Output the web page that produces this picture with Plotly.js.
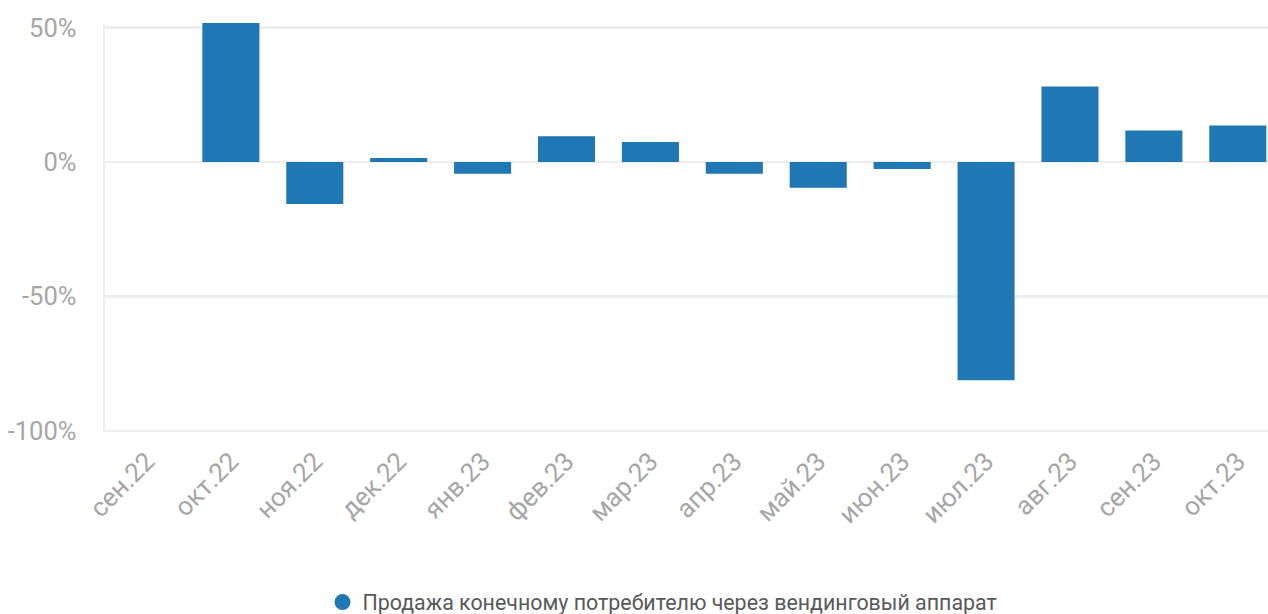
<!DOCTYPE html>
<html>
<head>
<meta charset="utf-8">
<script src="https://cdn.plot.ly/plotly-3.0.1.min.js"></script>
<style>html,body{margin:0;padding:0;overflow:hidden;background:#fff}</style>
</head>
<body>
<div id="chart" style="width:1268px;height:614px"></div>
<script>
const months = ["сен.22","окт.22","ноя.22","дек.22","янв.23","фев.23","мар.23","апр.23","май.23","июн.23","июл.23","авг.23","сен.23","окт.23"];
const values = [null, 51.7, -15.6, 1.5, -4.4, 9.6, 7.4, -4.4, -9.6, -2.6, -81.2, 28.1, 11.7, 13.6];
const seriesName = "Продажа конечному потребителю через вендинговый аппарат";
const barColor = "#1f77b4";

const traces = [
  {
    type: "bar",
    x: months,
    y: values,
    marker: {color: barColor},
    showlegend: false,
    hoverinfo: "x+y"
  },
  {
    type: "scatter",
    mode: "markers",
    x: [null],
    y: [null],
    name: seriesName,
    marker: {color: barColor, size: 20, symbol: "circle"},
    showlegend: true
  }
];

const layout = {
  width: 1268,
  height: 614,
  margin: {l: 105, r: 0, t: 23, b: 182, autoexpand: false},
  paper_bgcolor: "#fff",
  plot_bgcolor: "#fff",
  font: {family: "Roboto, sans-serif", color: "#a6a6a6", size: 26},
  bargap: 0.32,
  xaxis: {
    type: "category",
    range: [-0.5, 13.36],
    tickangle: -45,
    tickfont: {size: 26, color: "#a6a6a6"},
    showgrid: false,
    zeroline: false,
    showline: false,
    ticks: "",
    ticklabelstandoff: 8,
    automargin: false
  },
  yaxis: {
    range: [-100.4, 51.7],
    tickvals: [-100, -50, 0, 50],
    ticktext: ["-100%", "-50%", "0%", "50%"],
    tickfont: {size: 25.5, color: "#a6a6a6"},
    showgrid: true,
    gridcolor: "#eeeeee",
    gridwidth: 2.5,
    zeroline: false,
    showline: true,
    linecolor: "#eeeeee",
    linewidth: 2.5,
    ticks: "",
    ticklabelstandoff: 21,
    automargin: false
  },
  showlegend: true,
  legend: {
    orientation: "h",
    x: 0.187,
    xanchor: "left",
    y: -0.416,
    yanchor: "middle",
    font: {size: 21.4, color: "#595959"}
  }
};

Plotly.newPlot("chart", traces, layout, {displayModeBar: false, staticPlot: true});
</script>
</body>
</html>
